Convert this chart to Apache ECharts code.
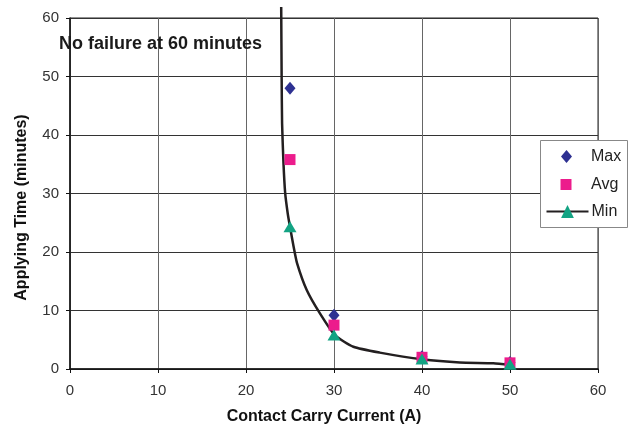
<!DOCTYPE html>
<html><head><meta charset="utf-8">
<script src="https://cdn.jsdelivr.net/npm/echarts@6/dist/echarts.min.js"></script>
<style>html,body{margin:0;padding:0;background:#fff}#c{width:634px;height:427px}</style>
</head><body><div id="c"></div>
<script>
var currents = [25, 30, 40, 50];
var maxTime = [48, 9.2, 2.1, 1.1];
var avgTime = [35.8, 7.5, 2.0, 1.05];
var minTime = [24.3, 5.8, 1.7, 0.8];
var curveX = [24.0, 24.05, 24.1, 24.25, 24.45, 24.75, 25.0, 25.4, 25.8, 26.9, 28.4, 30.1, 32.2, 35.2, 40.0, 44.3, 48.1, 50.0];
var curveY = [61.9, 50.0, 42.0, 35.5, 30.1, 26.5, 24.3, 21.0, 18.1, 13.5, 9.5, 5.8, 3.8, 2.8, 1.65, 1.1, 1.0, 0.7];
var xTicks = [0, 10, 20, 30, 40, 50, 60];
var yTicks = [0, 10, 20, 30, 40, 50, 60];
var seriesNames = ['Max', 'Avg', 'Min'];
var note = 'No failure at 60 minutes';

function pairs(xs, ys) { return xs.map(function (x, i) { return [x, ys[i]]; }); }

var font = 'Liberation Sans, Arial, sans-serif';
var legendCfg = {
  Max: {icon: 'diamond', w: 11, h: 13, left: 561, top: 148.5, textPad: 14},
  Avg: {icon: 'rect', w: 11, h: 11, left: 560.5, top: 176.5, textPad: 14.5},
  Min: {icon: null, w: 42, h: 16, left: 545.5, top: 203.5, textPad: -2}
};

function makeLegend(name) {
  var c = legendCfg[name];
  var item = {name: name};
  if (c.icon) item.icon = c.icon;
  return {
    orient: 'vertical', left: c.left, top: c.top,
    data: [item],
    itemWidth: c.w, itemHeight: c.h,
    padding: 0, z: 20,
    textStyle: {fontSize: 16, color: '#222', lineHeight: 16, padding: [0, 0, 0, c.textPad]}
  };
}

var chart = echarts.init(document.getElementById('c'), null, {renderer: 'canvas'});
chart.setOption({
  animation: false,
  textStyle: {fontFamily: font},
  grid: {left: 70, right: 36, top: 18, bottom: 58, show: true, borderColor: '#222', borderWidth: 1,
         containLabel: false, outerBoundsMode: 'none'},
  xAxis: {
    type: 'value', min: xTicks[0], max: xTicks[xTicks.length - 1], interval: 10,
    name: 'Contact Carry Current (A)', nameLocation: 'middle', nameGap: 40,
    nameTextStyle: {fontSize: 16, fontWeight: 'bold', color: '#111', padding: [0, 20, 0, 0]},
    axisLine: {lineStyle: {color: '#111', width: 1.5}},
    axisTick: {show: true, length: 4, inside: false, lineStyle: {color: '#111'}},
    axisLabel: {fontSize: 15, color: '#333', margin: 14},
    splitLine: {show: true, lineStyle: {color: '#666', width: 1}}
  },
  yAxis: {
    type: 'value', min: yTicks[0], max: yTicks[yTicks.length - 1], interval: 10,
    name: 'Applying Time (minutes)', nameLocation: 'middle', nameGap: 40,
    nameTextStyle: {fontSize: 16, fontWeight: 'bold', color: '#111', padding: [0, 28, 0, 0]},
    axisLine: {show: true, lineStyle: {color: '#111', width: 1.5}},
    axisTick: {show: true, length: 4, inside: false, lineStyle: {color: '#111'}},
    axisLabel: {fontSize: 15, color: '#333', margin: 11},
    splitLine: {show: true, lineStyle: {color: '#333', width: 1}}
  },
  legend: seriesNames.map(makeLegend),
  graphic: [
    {
      type: 'rect', z: 10,
      shape: {x: 540.5, y: 140.5, width: 87, height: 87},
      style: {fill: '#fff', stroke: '#888', lineWidth: 1}
    },
    {
      type: 'text', left: 59, top: 35, z: 10,
      style: {text: note, font: 'bold 18px ' + font, fill: '#1a1a1a'}
    }
  ],
  series: [
    {
      name: 'Min', type: 'line', data: pairs(curveX, curveY), clip: false,
      symbol: 'triangle', showSymbol: false, smooth: 0.2,
      lineStyle: {color: '#231f20', width: 2.5},
      itemStyle: {color: '#13a383'}, z: 1
    },
    {
      name: 'Max', type: 'scatter', data: pairs(currents, maxTime),
      symbol: 'diamond', symbolSize: [11, 13], itemStyle: {color: '#2e3192', opacity: 1}, z: 2
    },
    {
      name: 'Avg', type: 'scatter', data: pairs(currents, avgTime),
      symbol: 'rect', symbolSize: 11, itemStyle: {color: '#ec1c8c', opacity: 1}, z: 3
    },
    {
      name: 'Min', type: 'scatter', data: pairs(currents, minTime),
      symbol: 'triangle', symbolSize: [13, 11], itemStyle: {color: '#13a383', opacity: 1}, z: 4
    }
  ]
});
</script>
</body></html>
